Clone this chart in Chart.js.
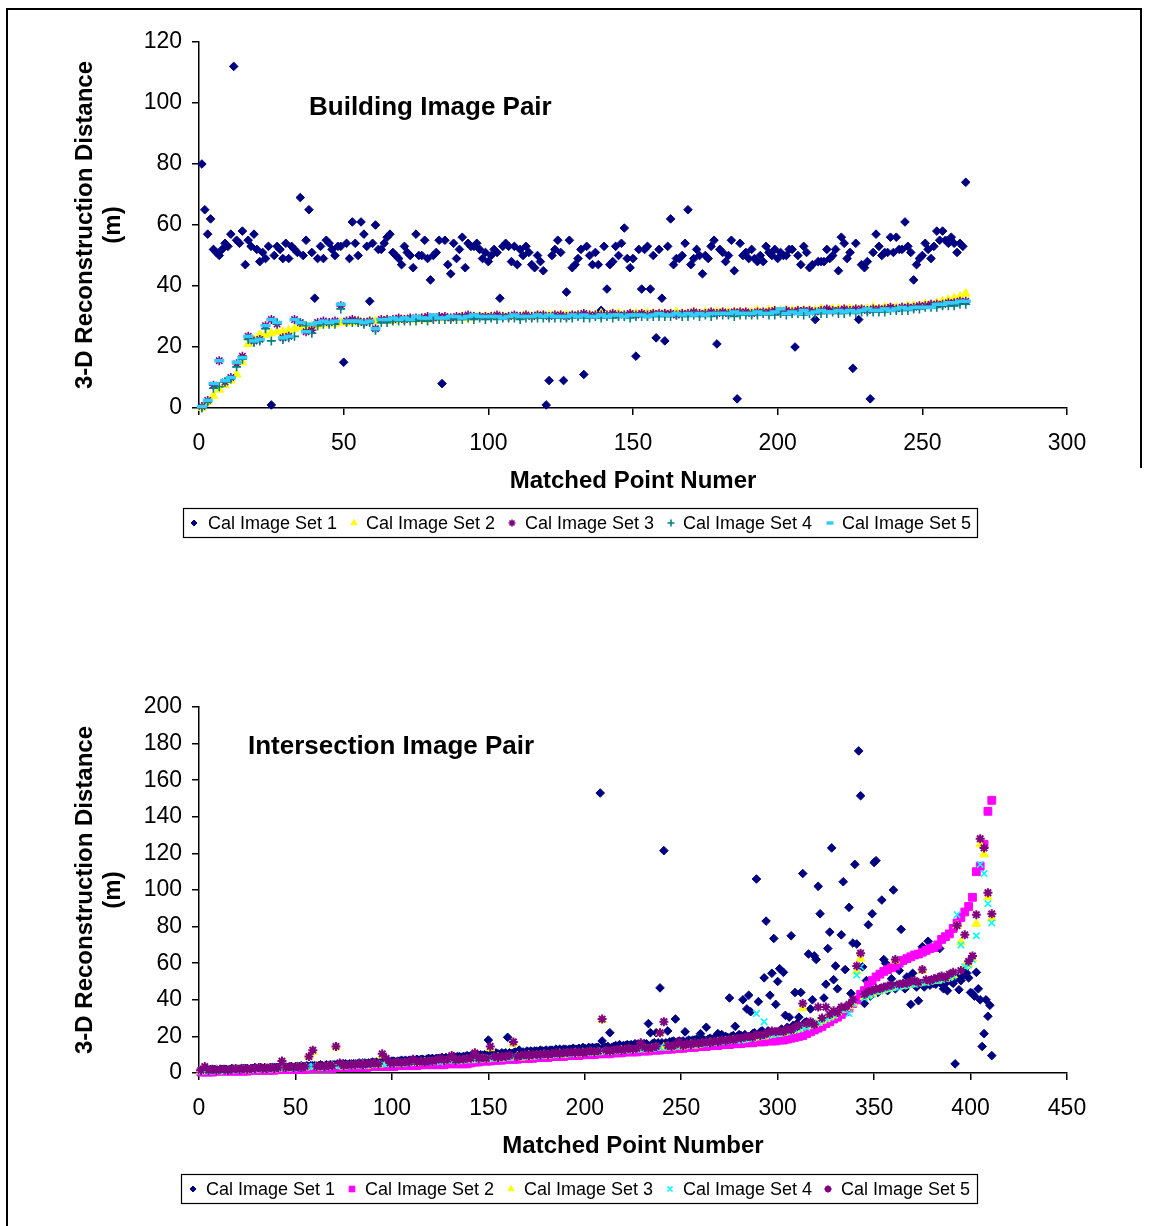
<!DOCTYPE html>
<html>
<head>
<meta charset="utf-8">
<title>3-D Reconstruction Distance</title>
<script src="https://cdn.jsdelivr.net/npm/chart.js@4.4.1/dist/chart.umd.min.js"></script>
<style>
  html, body { margin: 0; padding: 0; background: #fff; }
  #page { position: relative; width: 1151px; height: 1226px; overflow: hidden; }
  .rule { position: absolute; background: #000; }
  canvas { position: absolute; left: 0; }
  #topChart { top: 0; }
  #botChart { top: 600px; }
</style>
</head>
<body>
<div id="page">
  <div class="rule" style="left:6px;top:8px;width:1136px;height:2px"></div>
  <div class="rule" style="left:6px;top:8px;width:2px;height:1218px"></div>
  <div class="rule" style="left:1140px;top:8px;width:2px;height:460px"></div>
  <canvas id="topChart" width="1151" height="560"></canvas>
  <canvas id="botChart" width="1151" height="626"></canvas>
</div>
<script>
// ---- Building Image Pair ----
const topXTicks = [0, 50, 100, 150, 200, 250, 300];
const topYTicks = [0, 20, 40, 60, 80, 100, 120];

// every matched point, 1..265
const topSet1 = [
  80,65,57,62,52,51,50,52,54,53, 57,112,55,54,58,47,55,53,57,52,
  48,51,49,53,1,50,53,52,49,54, 49,53,52,51,69,50,55,65,51,36,
  49,53,49,55,54,52,50,53,53,15, 54,49,61,54,50,61,57,53,35,54,
  60,52,52,54,56,57,51,50,49,47, 53,51,50,46,57,50,50,55,49,42,
  50,51,55,8,55,47,44,54,49,52, 56,46,54,53,53,54,52,49,51,48,
  50,52,51,36,53,54,53,48,53,47, 52,50,53,51,47,46,50,48,45,1,
  9,50,52,55,51,9,38,55,46,47, 49,52,11,53,50,47,51,47,32,53,
  39,47,48,53,50,54,59,49,46,49, 17,52,39,52,53,39,50,23,52,36,
  22,53,62,47,49,49,50,54,65,47, 49,52,50,44,50,49,53,55,21,52,
  51,48,50,55,45,3,54,50,51,49, 52,49,48,50,48,53,51,50,52,49,
  51,50,50,52,52,20,50,47,53,51, 46,47,29,48,48,48,52,49,50,52,
  45,56,54,49,51,13,54,29,47,46, 48,3,51,57,53,50,51,51,56,51,
  56,52,52,61,53,51,42,47,49,50, 54,52,49,53,58,55,58,55,54,56,
  54,51,54,53,74
];
// sets 2-5: every second matched point, 1, 3, 5 ... 265
const topSet2 = [
  0,2,4,6,7.5,9,11,15,21,22.5, 24,24,24.5,25,25,25.5,26,26.5,26.5,27,
  27,27.5,27.5,27.5,28,28,28,28.5,28,28.5, 28.5,28.5,29,28.5,29,29,29,29,29.5,29,
  29.5,29.5,29.5,29.5,29.5,30,29.5,30,30,30, 30,30,30,30,30,30,30.5,30,30.5,30.5,
  30.5,30.5,30.5,30.5,30.5,30.5,30.5,30.5,30.5,31, 30.5,31,31,30.5,31,31,31,31,31,31,
  31,31,31.5,31,31,31.5,31,31.5,31.5,31.5, 31.5,31.5,31.5,31.5,31.5,31.5,32,31.5,32,32,
  32,32,32,32,32,32,32,32.5,32,32.5, 32.5,32.5,32.5,32.5,32.5,32.5,33,32.5,33,33,
  33,33,33.5,33.5,33.5,34,34,34.5,35,35.5, 36,36.5,37.5
];
const topSet3 = [
  0.5,2.5,7.5,15.5,8.5,10,14.5,17,23.5,22, 22.5,27,29,27.5,23,23.5,29,28,25,25.5,
  28,28.5,28,28.5,33.5,28.5,29,28.5,28,28.5, 26,29,29,29,29.5,29,29.5,29.5,29.5,30,
  29.5,30,30,29.5,30,30,30.5,30,30,30, 30,30.5,30,30,30.5,30,30.5,30,30.5,30.5,
  30,30.5,30.5,30,30.5,30.5,31,30.5,30.5,30.5, 30.5,31,30.5,30.5,31,30.5,31,30.5,31,31,
  31,31,30.5,31,31,31.5,31,31,31.5,31, 31.5,31,31.5,31.5,31.5,31,31.5,31.5,31.5,32,
  31.5,32,31.5,32,32,32,31.5,32,32.5,32, 32,32.5,32,32.5,32.5,32,32.5,32.5,32.5,33,
  32.5,33,33,33,33.5,33.5,34,34,34,34.5, 34.5,35,35
];
const topSet4 = [
  0,2,6.5,7,8.5,9.5,13.5,16,22.5,21.5, 22,26,22,28,22.5,23,23.5,28,27,24.5,
  27,27.5,27.5,27.5,32.5,28,28,28,27.5,28, 25.5,28,28,28.5,28.5,28.5,28.5,28.5,29,28.5,
  29,29,29,29,29,29,29.5,29,29.5,29, 29.5,29,29.5,29.5,29.5,29,29.5,29.5,29.5,29.5,
  29.5,29.5,29.5,29.5,29.5,30,29.5,29.5,30,29.5, 30,29.5,30,30,29.5,30,30,30,30,30,
  30,30,30.5,30,30,30.5,30,30.5,30,30.5, 30.5,30.5,30,30.5,30.5,30.5,30.5,31,30.5,30.5,
  31,30.5,31,31,30.5,31,31,31,31,31.5, 31,31,31.5,31,31.5,31.5,31.5,31.5,31.5,32,
  32,32,32,32.5,32.5,33,33,33,33.5,33.5, 33.5,34,34
];
const topSet5 = [
  0.5,2.5,8,15.5,9,10,15,16.5,23.5,22, 22.5,27,29,28,23,23.5,29,28,25,27.5,
  28,28.5,28,28.5,34,28.5,28.5,28.5,28,28.5, 26,29,29,29.5,29,29.5,29,30,29.5,29.5,
  30.5,29.5,29.5,30,30,29.5,30,30.5,30,30, 30,30,29.5,30,30.5,30,30,30,30.5,30,
  30.5,30,30,30,30.5,30,30.5,30,30,30.5, 30,30.5,30.5,30,30.5,30.5,30.5,30,30.5,31,
  30.5,30.5,31,30.5,31,30.5,31,30.5,31,31, 31,31,31.5,31,31,31,31.5,31,31,31.5,
  32.5,31,31.5,31,32,31,31.5,32,31.5,31.5, 32,31.5,32,31.5,32,32.5,32,32,32.5,32,
  32.5,33,32.5,33,33,33,33,34,34,34.5, 34.5,35,35
];

// ---- Intersection Image Pair ----
const botXTicks = [0, 50, 100, 150, 200, 250, 300, 350, 400, 450];
const botYTicks = [0, 20, 40, 60, 80, 100, 120, 140, 160, 180, 200];

// every matched point, 1..411
const botSet1 = [
  1.5,1.5,1.5,2,1.5,2,1.5,2,2,1.5, 2,2,1.5,2,2,2,2.5,2,2,2,
  2,2.5,2,2.5,2.5,2,2.5,2.5,3,2.5, 2.5,3,2.5,3,3,2.5,3,3,3,3,
  3,3.5,3,3,3.5,3,3.5,3.5,3,3.5, 3.5,3.5,4,3.5,3.5,4,3.5,4,4,4,
  4,4,4.5,4,4,4.5,4,4.5,4.5,4.5, 4.5,4.5,5,4.5,5,5,4.5,5,5,5,
  5,5,5.5,5,5.5,5.5,5,5.5,5.5,6, 5.5,6,5.5,6,6,6,6.5,6,6,6.5,
  6.5,6,6.5,6.5,7,6.5,7,6.5,7,7, 7,7,7.5,7,7.5,7.5,7,7.5,8,7.5,
  8,7.5,8,8,8,8.5,8,8.5,8,8.5, 8.5,9,8.5,9,9,8.5,9,9,9.5,9,
  9.5,9,9.5,10,9.5,10,9.5,10,10,18, 10,10.5,10,11,10.5,10,11,10.5,11,19.5,
  11,10.5,11,11.5,11,12.5,11,11.5,11,12, 11.5,12,11.5,12,12,11.5,12.5,12,12,12.5,
  12,12.5,12.5,12,13,12.5,13,12.5,13,13, 12.5,13,13,13.5,13,13,13.5,13,14,13.5,
  13,14,13.5,14,13.5,14,14,153,17.5,14, 14,14.5,22,14,14.5,15,14.5,15.5,14.5,15,
  15,15.5,15,15.5,15,16,15.5,15,16,15.5, 16,16,27,22,16,16.5,22,16.5,46.5,16.5,
  121.5,16.5,23,17,17,17.5,29.5,17,17.5,17, 17.5,22.5,17.5,18,17.5,18,18,18.5,18,21.5,
  18.5,18,25,18.5,19,18.5,19,19.5,21.5,19, 21,19.5,20,19.5,41,20,20.5,25.5,20,21,
  20.5,40,21,35,42.5,33.5,21.5,22,106,39, 22.5,23,52,83,23,42.5,54.5,73.5,37.5,50,
  57,24,55,31.5,25,30.5,75,26,44,27, 30.5,44,109,27.5,28,65,35,40,64,62,
  102,87,29,41,48.5,68,77,123,51,58.5, 46,31,75.5,104.5,56.5,34,90.5,43.5,71,114,
  70.5,176,151.5,58,38,50.5,81,42,87,115, 116,44,46,94.5,62,60,45,47,51.5,100,
  46,48,56,78.5,47,46,52.5,49,37.5,54.5, 48,47,39.5,49,69,47,50,72,48,50,
  49,48.5,50,68,48.5,46,49,45,51,50, 49,5,52,45.5,50.5,53,57,54.5,52,44,
  43.5,42,55,46,40,14.5,21.5,40,31,37, 9.5
];
// sets 2-5: every second matched point, 1, 3, 5 ... 411
const botSet2 = [
  0.5,0.5,0.5,0.5,1,1,1,1,1,1, 1,1,1,1.5,1.5,1.5,1.5,1.5,1.5,1.5,
  2,2,2,2,2,2,2,2,2.5,2.5, 2.5,2.5,2.5,2.5,2.5,3,3,3,3,3,
  3,3,3,3,3.5,3.5,3.5,3.5,3.5,3.5, 3.5,4,4,4,4,4,4,4.5,4.5,4.5,
  4.5,4.5,4.5,4.5,5,5,5,5,5,5, 5.5,6,6,6.5,6.5,6.5,7,7,7,7.5,
  7.5,7.5,7.5,8,8,8,8,8.5,8.5,8.5, 8.5,9,9,9,9,9.5,9.5,9.5,9.5,10,
  10,10,10,10.5,10.5,10.5,10.5,11,11,11, 11.5,11.5,11.5,11.5,12,12,12,12.5,12.5,12.5,
  13,13,13,13.5,13.5,13.5,14,14,14,14.5, 14.5,14.5,15,15,15,15.5,15.5,15.5,16,16,
  16,16.5,16.5,16.5,17,17,17,17.5,17.5,17.5, 18,18,18.5,19,19.5,20,20.5,21.5,22.5,23.5,
  24.5,25.5,27,28,29.5,30.5,32,33.5,35.5,38, 40,43,45,48,50.5,52.5,54,55.5,56.5,57.5,
  58.5,60,61.5,62.5,63.5,64.5,65,66,67,68, 68.5,70,73,74.5,76,79,82,85,88,91,
  96,110,113,125,143,149
];
const botSet3 = [
  1,1,1.5,1,1.5,1,1.5,1.5,1.5,2, 2,2,1.5,2,2,2.5,2,2.5,2.5,2,
  2.5,3,3,2.5,3,3,3,3,9,11.5, 3.5,3,3.5,3.5,4,14,4,3.5,4,4,
  4,4.5,4.5,4,4.5,5,4.5,9.5,5,5, 5,5.5,5,5.5,5.5,6,5.5,6,6,6,
  6,6.5,6.5,6.5,7,8.5,7,6.5,7,7.5, 7,10,7.5,8,7.5,13.5,8,8.5,8,8.5,
  8.5,16,9,8.5,9,9.5,9,9.5,9.5,10, 9.5,10,10,10.5,10,10.5,10.5,11,10.5,11,
  11,11.5,11,11.5,29,12,11.5,12,12,12.5, 12.5,13,12.5,13,13,13.5,13,13.5,14,22,
  14,14.5,14,14.5,15,14.5,15,15.5,15,15.5, 16,16,16.5,16.5,17,17,17.5,17.5,18,18,
  18,18.5,19,19,19.5,20,20,21,21,21.5, 21.5,22,22.5,23,23.5,24,35.5,25.5,26,26.5,
  27.5,28.5,29.5,30.5,31.5,33,34.5,35.5,36.5,38, 55.5,62.5,41.5,42.5,43.5,44.5,45,45.5,46,46.5,
  61.5,47.5,47.5,48,48.5,48.5,49,56,49.5,50, 50.5,50.5,51.5,51.5,52.5,53.5,80.5,71.5,58.5,59.5,
  62.5,81.5,125,119.5,96,84.5
];
const botSet4 = [
  1,1.5,1,1,1.5,1.5,1,1.5,2,1.5, 2,2,2,2,2,2.5,2.5,2,2.5,2.5,
  2.5,3,3,3,2.5,3,3,3,3.5,3.5, 3.5,3.5,3,4,4,4,4,4,4,4,
  4.5,4.5,4,4.5,4.5,5,5,5,5,5, 5.5,5,5.5,5.5,5.5,6,6,6,6,6,
  6.5,6.5,6,7,7,7,6.5,7,7,7.5, 7.5,7.5,7.5,8,8,8,8,8.5,8.5,8.5,
  8.5,9,9,9,9,9.5,9.5,9.5,9.5,10, 10,10,10,10.5,10.5,10.5,10.5,11,11,11,
  11,11.5,11.5,11.5,12,12,12,12,12.5,12.5, 12.5,13,13,13,13,13.5,13.5,13.5,14,14,
  28,14,14.5,14.5,15,15,15,15.5,15.5,16, 16,16,16.5,16.5,17,17,17.5,17.5,18,18,
  18,18.5,19,19,32.5,20,28,20.5,21,21.5, 21.5,22.5,22.5,23,23.5,24,25,25,26,26.5,
  27.5,28.5,29.5,30.5,31.5,33,34.5,35.5,32.5,38, 53.5,58,41,42,43,44.5,45,45.5,46,46.5,
  47,47,47.5,48,48.5,48.5,49,49.5,49.5,50, 50.5,50.5,51,51.5,52,53,86.5,70,58,59,
  62,75,114,109,92.5,82
];
const botSet5 = [
  1.5,3.5,1.5,2,1.5,2,2,1.5,2,2.5, 2,2.5,2,2.5,2.5,3,2.5,2.5,3,2.5,
  3,6.5,3,3.5,3,3.5,3,3.5,9,12.5, 3.5,4,3.5,4,4,14.5,5.5,4,4.5,4.5,
  4.5,5,4.5,5,5,5.5,5,10.5,8,5.5, 5.5,6,5.5,6,6,7.5,6,6.5,6,6.5,
  6.5,7,8,7,7.5,9.5,7,7.5,7.5,8, 8,11,8,8.5,8,14.5,9,8.5,9,9,
  9.5,17,9,9.5,10,9.5,10,10,10,10.5, 10,10.5,11,10.5,11,11,11.5,11,11.5,11,
  11.5,12,11.5,12,29.5,12.5,12,12.5,13,12.5, 13,13.5,13,13.5,16.5,14,13.5,14,14.5,22,
  28,15,14.5,15.5,17,15,16,15.5,16.5,16, 16.5,17,16.5,17.5,17,18,17.5,18.5,18,19,
  19,19.5,20,19.5,21,20.5,21,22,23,22.5, 23,22.5,24,23.5,25,26,38,27,28,26.5,
  36,30,36,32,34,33,36,36,37.5,40, 58.5,65.5,43,44.5,45,46,46,47,47.5,48,
  62,48.5,49,49,50,50.5,49.5,56.5,51,50.5, 51.5,52,53,52,54,55,80.5,56,75.5,61,
  64,86.5,128,123,98.5,87
];

const FONT = "'Liberation Sans', Arial, Helvetica, sans-serif";

// point number -> {x, y}
function points(values, step) {
  return values.map((v, i) => ({ x: 1 + i * step, y: v }));
}

function series(label, values, step, style, color, radius, bw, order, legendRadius) {
  return {
    label: label,
    data: points(values, step),
    pointStyle: style,
    pointRadius: radius,
    pointHoverRadius: radius,
    pointBackgroundColor: color,
    pointBorderColor: color,
    pointBorderWidth: bw,
    showLine: false,
    clip: false,
    order: order,
    legendRadius: legendRadius
  };
}

// text drawn inside the plot area
const panelTitle = {
  id: 'panelTitle',
  afterDraw(chart, args, opts) {
    const ctx = chart.ctx;
    ctx.save();
    ctx.font = 'bold 26px ' + FONT;
    ctx.fillStyle = '#000';
    ctx.textBaseline = 'middle';
    ctx.textAlign = 'left';
    ctx.fillText(opts.text, opts.x, opts.y);
    ctx.restore();
  }
};

// boxed legend below the axis, like the spreadsheet one
const boxLegend = {
  id: 'boxLegend',
  afterDraw(chart, args, opts) {
    const ctx = chart.ctx;
    const b = opts.box;
    const drawPoint = Chart.helpers && Chart.helpers.drawPoint;
    ctx.save();
    ctx.strokeStyle = '#000';
    ctx.lineWidth = 1.2;
    ctx.strokeRect(b.x + 0.5, b.y + 0.5, b.w, b.h);
    const cy = b.y + b.h / 2 + 0.5;
    ctx.font = '18px ' + FONT;
    ctx.textBaseline = 'middle';
    ctx.textAlign = 'left';
    chart.data.datasets.forEach((ds, i) => {
      if (drawPoint) {
        ctx.fillStyle = ds.pointBackgroundColor;
        ctx.strokeStyle = ds.pointBorderColor;
        ctx.lineWidth = ds.pointBorderWidth;
        drawPoint(ctx, { pointStyle: ds.pointStyle, radius: ds.legendRadius,
          borderWidth: ds.pointBorderWidth, rotation: 0 }, opts.markerX[i], cy);
      }
      ctx.fillStyle = '#000';
      ctx.fillText(ds.label, opts.textX[i], cy + 1);
    });
    ctx.restore();
  }
};

function axes(xTicks, yTicks, xTitle, xHeight, xTitlePad) {
  const tickFont = { family: FONT, size: 23 };
  const titleFont = { family: FONT, size: 24, weight: 'bold' };
  const grid = { display: true, drawOnChartArea: false, drawTicks: true, tickLength: 7, color: '#000', lineWidth: 1.5 };
  const border = { display: true, color: '#000', width: 1.5 };
  return {
    x: {
      type: 'linear',
      min: xTicks[0],
      max: xTicks[xTicks.length - 1],
      afterBuildTicks: s => { s.ticks = xTicks.map(v => ({ value: v })); },
      afterFit: s => { s.height = xHeight; },
      grid: grid,
      border: border,
      ticks: { font: tickFont, color: '#000', padding: 15, maxRotation: 0, autoSkip: false },
      title: { display: true, text: xTitle, font: titleFont, color: '#000', padding: { top: 0, bottom: xTitlePad } }
    },
    y: {
      type: 'linear',
      min: yTicks[0],
      max: yTicks[yTicks.length - 1],
      afterBuildTicks: s => { s.ticks = yTicks.map(v => ({ value: v })); },
      afterFit: s => { s.width = 199; },
      grid: grid,
      border: border,
      ticks: { font: tickFont, color: '#000', padding: 10, autoSkip: false },
      title: {
        display: true,
        text: ['3-D Reconstruction Distance', '(m)'],
        font: { family: FONT, size: 24, weight: 'bold', lineHeight: 1.15 },
        color: '#000',
        padding: { top: 72, bottom: 0 }
      }
    }
  };
}

Chart.defaults.font.family = FONT;

new Chart(document.getElementById('topChart'), {
  type: 'scatter',
  data: {
    datasets: [
      series('Cal Image Set 1', topSet1, 1, 'rectRot', '#000080', 4.3, 1, 5, 3),
      series('Cal Image Set 2', topSet2, 2, 'triangle', '#FFFF00', 5, 1, 4, 3.5),
      series('Cal Image Set 3', topSet3, 2, 'star', '#800080', 4.5, 1.6, 3, 3.5),
      series('Cal Image Set 4', topSet4, 2, 'cross', '#008080', 4.5, 1.6, 2, 3.5),
      series('Cal Image Set 5', topSet5, 2, 'line', '#33CCFF', 5, 3.5, 1, 3.5)
    ]
  },
  options: {
    responsive: false,
    animation: false,
    devicePixelRatio: 1,
    layout: { padding: { left: 0, right: 84, top: 42, bottom: 60 } },
    scales: axes(topXTicks, topYTicks, 'Matched Point Numer', 92, 4),
    plugins: {
      legend: { display: false },
      tooltip: { enabled: false },
      panelTitle: { text: 'Building Image Pair', x: 309, y: 108 },
      boxLegend: {
        box: { x: 183, y: 508, w: 794, h: 29 },
        markerX: [194, 354, 512, 671, 830],
        textX: [208, 366, 525, 683, 842]
      }
    }
  },
  plugins: [panelTitle, boxLegend]
});

new Chart(document.getElementById('botChart'), {
  type: 'scatter',
  data: {
    datasets: [
      series('Cal Image Set 1', botSet1, 1, 'rectRot', '#000080', 4.3, 1, 5, 3),
      series('Cal Image Set 2', botSet2, 2, 'rect', '#FF00FF', 5.5, 1, 4, 4),
      series('Cal Image Set 3', botSet3, 2, 'triangle', '#FFFF00', 5, 1, 3, 3.5),
      series('Cal Image Set 4', botSet4, 2, 'crossRot', '#00FFFF', 4.5, 1.6, 2, 3.5),
      series('Cal Image Set 5', botSet5, 2, 'star', '#800080', 4.5, 2, 1, 3.5)
    ]
  },
  options: {
    responsive: false,
    animation: false,
    devicePixelRatio: 1,
    layout: { padding: { left: 0, right: 84, top: 107, bottom: 56 } },
    scales: axes(botXTicks, botYTicks, 'Matched Point Number', 97, 9),
    plugins: {
      legend: { display: false },
      tooltip: { enabled: false },
      panelTitle: { text: 'Intersection Image Pair', x: 248, y: 147 },
      boxLegend: {
        box: { x: 181, y: 574, w: 796, h: 29 },
        markerX: [193, 352, 511, 670, 828],
        textX: [206, 365, 524, 683, 841]
      }
    }
  },
  plugins: [panelTitle, boxLegend]
});
</script>
</body>
</html>
